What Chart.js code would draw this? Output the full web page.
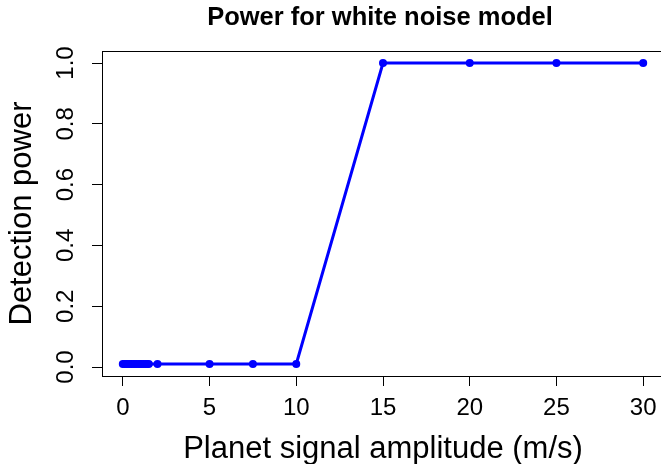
<!DOCTYPE html>
<html>
<head>
<meta charset="utf-8">
<script src="https://cdn.jsdelivr.net/npm/chart.js@4.4.1/dist/chart.umd.min.js"></script>
<style>
  html, body { margin: 0; padding: 0; background: #fff; overflow: hidden; }
  #wrap { width: 661px; height: 464px; overflow: hidden; }
</style>
</head>
<body>
<div id="wrap"><canvas id="MyChart" width="672" height="464"></canvas></div>
<script>
// amplitude (m/s) and detection power
const amplitudes = [0, 0.1, 0.2, 0.3, 0.4, 0.5, 0.6, 0.7, 0.8, 0.9, 1.0, 1.1, 1.2, 1.3, 1.4, 1.5, 2, 5, 7.5, 10, 15, 20, 25, 30];
const power = [0.01, 0.01, 0.01, 0.01, 0.01, 0.01, 0.01, 0.01, 0.01, 0.01, 0.01, 0.01, 0.01, 0.01, 0.01, 0.01, 0.01, 0.01, 0.01, 0.01, 1, 1, 1, 1];
const xTicks = [0, 5, 10, 15, 20, 25, 30];
const yTicks = [0, 0.2, 0.4, 0.6, 0.8, 1.0];

const chartTitle = 'Power for white noise model';
const xTitle = 'Planet signal amplitude (m/s)';
const yTitle = 'Detection power';

const fontFam = '"Liberation Sans", Arial, Helvetica, sans-serif';

// box round the plot area and the bold title above it (R style)
const boxPlugin = {
    id: 'boxPlugin',
    afterDraw(chart) {
        const a = chart.chartArea;
        const ctx = chart.ctx;
        ctx.save();
        ctx.strokeStyle = '#000';
        ctx.lineWidth = 1;
        ctx.strokeRect(Math.round(a.left) + 0.5, Math.round(a.top) + 0.5, a.right - a.left, a.bottom - a.top);
        ctx.fillStyle = '#000';
        ctx.font = 'bold 25.5px ' + fontFam;
        ctx.textAlign = 'center';
        ctx.textBaseline = 'middle';
        ctx.fillText(chartTitle, (a.left + a.right) / 2 - 3, 18);
        ctx.restore();
    }
};

const ctx = document.getElementById('MyChart').getContext('2d');
const powerChart = new Chart(ctx, {
    type: 'line',
    data: {
        datasets: [{
            data: amplitudes.map((a, i) => ({ x: a, y: power[i] })),
            borderColor: '#0000ff',
            backgroundColor: '#0000ff',
            borderWidth: 3,
            pointRadius: 4,
            pointBorderWidth: 0,
            tension: 0,
            fill: false
        }]
    },
    options: {
        responsive: false,
        animation: false,
        layout: { padding: { left: 2, right: 8, top: 51, bottom: -4 } },
        plugins: {
            legend: { display: false },
            tooltip: { enabled: false },
            title: { display: false }
        },
        scales: {
            x: {
                type: 'linear',
                min: -1.2,
                max: 31.2,
                afterBuildTicks: s => { s.ticks = xTicks.map(v => ({ value: v })); },
                grid: { drawOnChartArea: false, tickLength: 10, color: '#000', tickWidth: 1 },
                border: { display: false },
                ticks: { color: '#000', font: { family: fontFam, size: 24 }, padding: 8, maxRotation: 0, autoSkip: false },
                title: { display: true, text: xTitle, color: '#000', font: { family: fontFam, size: 31 }, padding: { top: 0, bottom: 0 } }
            },
            y: {
                type: 'linear',
                min: -0.0296,
                max: 1.0396,
                afterBuildTicks: s => { s.ticks = yTicks.map(v => ({ value: v })); },
                grid: { drawOnChartArea: false, tickLength: 10, color: '#000', tickWidth: 1 },
                border: { display: false },
                ticks: {
                    color: '#000', font: { family: fontFam, size: 24 }, padding: 9,
                    minRotation: 90, maxRotation: 90, crossAlign: 'center', autoSkip: false,
                    callback: v => v.toFixed(1)
                },
                title: { display: true, text: yTitle, color: '#000', font: { family: fontFam, size: 31 }, padding: { top: 2, bottom: 4 } }
            }
        }
    },
    plugins: [boxPlugin]
});
</script>
</body>
</html>
